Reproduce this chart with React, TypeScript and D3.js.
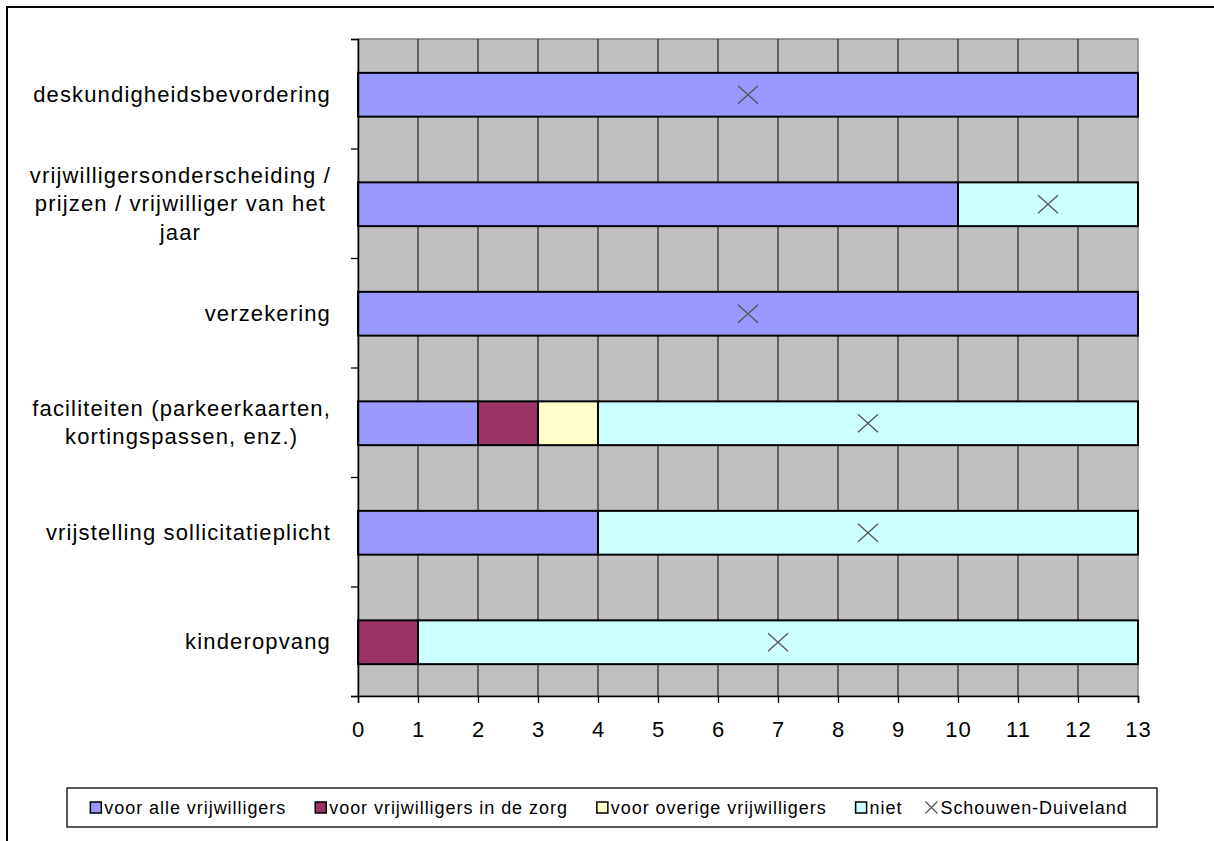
import * as d3 from "d3";
import { useEffect, useRef } from "react";

const categories = [
  ["deskundigheidsbevordering"],
  ["vrijwilligersonderscheiding /", "prijzen / vrijwilliger van het", "jaar"],
  ["verzekering"],
  ["faciliteiten (parkeerkaarten,", "kortingspassen, enz.)"],
  ["vrijstelling sollicitatieplicht"],
  ["kinderopvang"],
];
const seriesNames = [
  "voor alle vrijwilligers",
  "voor vrijwilligers in de zorg",
  "voor overige vrijwilligers",
  "niet",
];
const alleValues = [13, 10, 13, 2, 4, 0];
const zorgValues = [0, 0, 0, 1, 0, 1];
const overigeValues = [0, 0, 0, 1, 0, 0];
const nietValues = [0, 3, 0, 9, 9, 12];
const schouwenValues = [6.5, 11.5, 6.5, 8.5, 8.5, 7];
const markerName = "Schouwen-Duiveland";
const xTicks = [0, 1, 2, 3, 4, 5, 6, 7, 8, 9, 10, 11, 12, 13];
const colors = ["#9999FF", "#993366", "#FFFFCC", "#CCFFFF"];

const FONT = "'Liberation Sans', Arial, sans-serif";

export default function App() {
  const svgRef = useRef<SVGSVGElement | null>(null);

  useEffect(() => {
    document.body.style.margin = "0";
    const width = 1214;
    const height = 841;
    const plot = { left: 358, right: 1138, top: 39, bottom: 696 };

    const svg = d3.select(svgRef.current);
    svg.selectAll("*").remove();
    svg.attr("width", width).attr("height", height);

    svg.append("rect").attr("width", width).attr("height", height).attr("fill", "#fff");
    // chart area border (runs off right and bottom)
    svg
      .append("rect")
      .attr("x", 7)
      .attr("y", 7)
      .attr("width", width + 20)
      .attr("height", height + 20)
      .attr("fill", "none")
      .attr("stroke", "#000")
      .attr("stroke-width", 2);

    const keys = categories.map((_, i) => String(i));
    const x = d3.scaleLinear().domain([0, 13]).range([plot.left, plot.right]);
    const y = d3.scaleBand().domain(keys).range([plot.top, plot.bottom]).paddingInner(0).paddingOuter(0);

    // plot background
    svg
      .append("rect")
      .attr("x", plot.left)
      .attr("y", plot.top)
      .attr("width", plot.right - plot.left)
      .attr("height", plot.bottom - plot.top)
      .attr("fill", "#C0C0C0")
      .attr("stroke", "#808080")
      .attr("stroke-width", 1.5);

    // vertical gridlines
    svg
      .append("g")
      .selectAll("line")
      .data(xTicks.slice(1, -1))
      .join("line")
      .attr("x1", (d) => x(d))
      .attr("x2", (d) => x(d))
      .attr("y1", plot.top)
      .attr("y2", plot.bottom)
      .attr("stroke", "#333")
      .attr("stroke-width", 1.3);

    // stacked bars
    const table = keys.map((k, i) => ({
      key: k,
      s0: alleValues[i],
      s1: zorgValues[i],
      s2: overigeValues[i],
      s3: nietValues[i],
    }));
    const stack = d3.stack<any>().keys(["s0", "s1", "s2", "s3"]);
    const layers = stack(table);
    const barH = y.bandwidth() * 0.4;

    layers.forEach((layer, li) => {
      svg
        .append("g")
        .selectAll("rect")
        .data(layer.filter((d) => d[1] - d[0] > 0))
        .join("rect")
        .attr("x", (d) => x(d[0]))
        .attr("y", (d) => y(d.data.key)! + (y.bandwidth() - barH) / 2 + 1)
        .attr("width", (d) => x(d[1]) - x(d[0]))
        .attr("height", barH)
        .attr("fill", colors[li])
        .attr("stroke", "#000")
        .attr("stroke-width", 2);
    });

    // X markers
    const cross = "M-10,-9L10,9M-10,9L10,-9";
    svg
      .append("g")
      .selectAll("path")
      .data(schouwenValues)
      .join("path")
      .attr("transform", (d, i) => `translate(${x(d)},${y(keys[i])! + y.bandwidth() / 2 + 1})`)
      .attr("d", cross)
      .attr("fill", "none")
      .attr("stroke", "#555")
      .attr("stroke-width", 1.3);

    // axes
    const yAxis = svg
      .append("g")
      .attr("transform", `translate(${plot.left},0)`)
      .call(
        d3
          .axisLeft(d3.scaleLinear().domain([0, 6]).range([plot.top, plot.bottom]))
          .ticks(6)
          .tickSize(7)
          .tickFormat(() => "")
      );
    yAxis.select(".domain").attr("stroke", "#000").attr("stroke-width", 1.5);
    yAxis.selectAll(".tick line").attr("stroke", "#000").attr("stroke-width", 1.3);

    const xAxis = svg
      .append("g")
      .attr("transform", `translate(0,${plot.bottom})`)
      .call(d3.axisBottom(x).tickValues(xTicks).tickSize(7).tickPadding(18).tickFormat(d3.format("d")));
    xAxis.select(".domain").attr("stroke", "#000").attr("stroke-width", 1.5);
    xAxis.selectAll(".tick line").attr("stroke", "#000").attr("stroke-width", 1.3);
    xAxis
      .selectAll(".tick text")
      .attr("fill", "#000")
      .attr("font-family", FONT)
      .attr("font-size", 22)
      .attr("letter-spacing", 1);

    // category labels
    const labelRight = 331;
    const lineH = 28.5;
    categories.forEach((lines, i) => {
      const cy = y(keys[i])! + y.bandwidth() / 2;
      const g = svg.append("g");
      const texts = lines.map((line, li) =>
        g
          .append("text")
          .attr("y", cy + (li - (lines.length - 1) / 2) * lineH)
          .attr("dy", "0.36em")
          .attr("font-family", FONT)
          .attr("font-size", 22)
          .attr("letter-spacing", 1.15)
          .attr("text-anchor", "middle")
          .attr("fill", "#000")
          .text(line)
      );
      const maxW = d3.max(texts, (t) => (t.node() as SVGTextElement).getComputedTextLength())!;
      texts.forEach((t) => t.attr("x", labelRight - maxW / 2));
    });

    // legend
    const legend = { left: 67, right: 1157, top: 788, bottom: 827 };
    svg
      .append("rect")
      .attr("x", legend.left)
      .attr("y", legend.top)
      .attr("width", legend.right - legend.left)
      .attr("height", legend.bottom - legend.top)
      .attr("fill", "#fff")
      .attr("stroke", "#000")
      .attr("stroke-width", 1.3);

    const lg = svg.append("g");
    const ly = (legend.top + legend.bottom) / 2;
    const items = [...seriesNames.map((n, i) => ({ name: n, color: colors[i] })), { name: markerName, color: null }];
    let cx = 0;
    items.forEach((it, i) => {
      const ig = lg.append("g");
      if (it.color) {
        ig.append("rect")
          .attr("x", 0)
          .attr("y", ly - 5.5)
          .attr("width", 11)
          .attr("height", 11)
          .attr("fill", it.color)
          .attr("stroke", "#000")
          .attr("stroke-width", 1.5);
      } else {
        ig.append("path")
          .attr("transform", `translate(6,${ly})`)
          .attr("d", "M-6,-6L6,6M-6,6L6,-6")
          .attr("stroke", "#555")
          .attr("stroke-width", 1.2);
      }
      const t = ig
        .append("text")
        .attr("x", it.color ? 14 : 15)
        .attr("y", ly)
        .attr("dy", "0.36em")
        .attr("font-family", FONT)
        .attr("font-size", 18)
        .attr("letter-spacing", 0.95)
        .attr("fill", "#000")
        .text(it.name);
      const w = (it.color ? 14 : 15) + (t.node() as SVGTextElement).getComputedTextLength();
      ig.attr("transform", `translate(${cx},0)`);
      cx += w + (i === items.length - 2 ? 23 : 29);
    });
    const total = cx - 23;
    const offset = (legend.left + legend.right) / 2 - total / 2;
    lg.attr("transform", `translate(${offset},0)`);
  }, []);

  return <svg ref={svgRef} style={{ display: "block" }}></svg>;
}
